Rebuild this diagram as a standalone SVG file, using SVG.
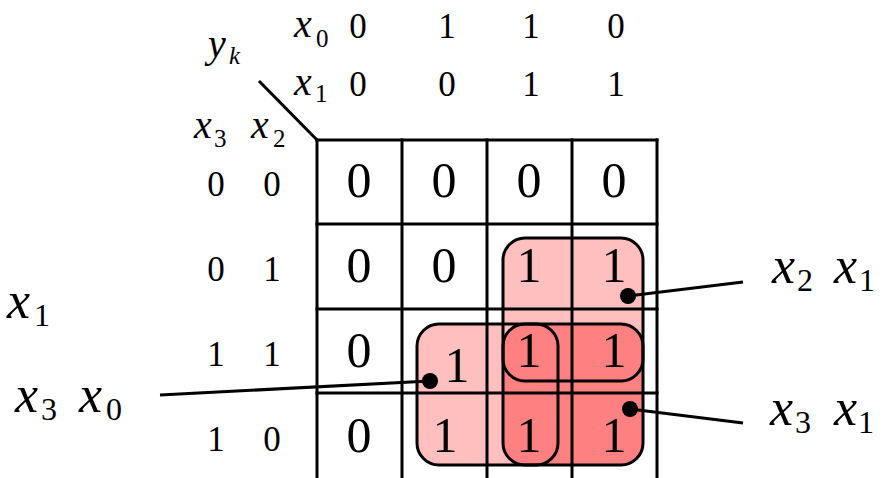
<svg xmlns="http://www.w3.org/2000/svg" width="883" height="478" viewBox="0 0 883 478">
  <style>
    .bg { fill: #ffffff; }
    .grid { stroke: #000; stroke-width: 3; fill: none; stroke-linecap: square; }
    .light { fill: #ffbfbf; }
    .dark { fill: #ff8080; }
    .edge { fill: none; stroke: #000; stroke-width: 3; }
    .num { fill: #000; }
    .cell { font-size: 50px; text-anchor: middle; }
    .head { font-size: 35px; text-anchor: middle; }
    .var { font-style: italic; fill: #000; }
    .sub { font-style: normal; fill: #000; }
    .wire { stroke: #000; stroke-width: 3; fill: none; }
  </style>

  <rect class="bg" x="0" y="0" width="883" height="478"/>

  <!-- group fills (drawn under the grid) -->
  <g id="fills">
    <rect class="light" x="503" y="238" width="140" height="143" rx="22"/>
    <rect class="light" x="417" y="324" width="141" height="141" rx="22"/>
    <rect class="dark" x="503" y="324" width="140" height="141" rx="22"/>
  </g>

  <!-- Karnaugh grid -->
  <g id="grid" class="grid">
    <line x1="260" y1="82" x2="317" y2="140"/>
    <line x1="317" y1="140" x2="657" y2="140"/>
    <line x1="317" y1="224" x2="657" y2="224"/>
    <line x1="317" y1="309" x2="657" y2="309"/>
    <line x1="317" y1="393" x2="657" y2="393"/>
    <line x1="317" y1="140" x2="317" y2="480"/>
    <line x1="402" y1="140" x2="402" y2="480"/>
    <line x1="487" y1="140" x2="487" y2="480"/>
    <line x1="572" y1="140" x2="572" y2="480"/>
    <line x1="657" y1="140" x2="657" y2="480"/>
  </g>

  <!-- group outlines -->
  <g id="group-x2x1">
    <rect class="edge" x="503" y="238" width="140" height="143" rx="22"/>
  </g>
  <g id="group-x3x0">
    <rect class="edge" x="417" y="324" width="141" height="141" rx="22"/>
  </g>
  <g id="group-x3x1">
    <rect class="edge" x="503" y="324" width="140" height="141" rx="22"/>
  </g>

  <g font-family="'Liberation Serif', 'DejaVu Serif', serif">
    <!-- axis headings -->
    <g id="axis-labels">
      <text><tspan class="var" x="294" y="37" font-size="40">x</tspan><tspan class="sub" x="316" y="47" font-size="25">0</tspan></text>
      <text><tspan class="var" x="294" y="95" font-size="40">x</tspan><tspan class="sub" x="315" y="102" font-size="25">1</tspan></text>
      <text><tspan class="var" x="208" y="57" font-size="40">y</tspan><tspan class="var" x="229" y="64" font-size="25">k</tspan></text>
      <text><tspan class="var" x="194" y="138" font-size="40">x</tspan><tspan class="sub" x="214" y="147" font-size="25">3</tspan><tspan class="var" x="251" y="138" font-size="40">x</tspan><tspan class="sub" x="273" y="147" font-size="25">2</tspan></text>
    </g>

    <g id="col-heads" class="num head">
      <text x="358" y="38">0</text>
      <text x="447" y="38">1</text>
      <text x="531" y="38">1</text>
      <text x="616" y="38">0</text>
      <text x="358" y="96">0</text>
      <text x="447" y="96">0</text>
      <text x="531" y="96">1</text>
      <text x="616" y="96">1</text>
    </g>

    <g id="row-heads" class="num head">
      <text x="216" y="196">0</text><text x="272" y="196">0</text>
      <text x="216" y="281">0</text><text x="272" y="281">1</text>
      <text x="216" y="366">1</text><text x="272" y="366">1</text>
      <text x="216" y="451">1</text><text x="272" y="451">0</text>
    </g>

    <!-- cell values -->
    <g id="cells" class="num cell">
      <text x="359" y="197">0</text>
      <text x="444" y="197">0</text>
      <text x="529" y="197">0</text>
      <text x="614" y="197">0</text>
      <text x="359" y="282">0</text>
      <text x="444" y="282">0</text>
      <text x="529" y="282">1</text>
      <text x="614" y="282">1</text>
      <text x="359" y="367">0</text>
      <text x="457" y="382">1</text>
      <text x="529" y="367">1</text>
      <text x="614" y="367">1</text>
      <text x="359" y="452">0</text>
      <text x="445" y="452">1</text>
      <text x="529" y="452">1</text>
      <text x="614" y="452">1</text>
    </g>

    <!-- term labels -->
    <g id="label-x1">
      <text><tspan class="var" x="7" y="318" font-size="52">x</tspan><tspan class="sub" x="34" y="326" font-size="32">1</tspan></text>
    </g>
    <g id="label-x3x0">
      <text><tspan class="var" x="15" y="412" font-size="52">x</tspan><tspan class="sub" x="41" y="420" font-size="32">3</tspan><tspan class="var" x="79" y="412" font-size="52">x</tspan><tspan class="sub" x="106" y="420" font-size="32">0</tspan></text>
    </g>
    <g id="label-x2x1">
      <text><tspan class="var" x="772" y="283" font-size="52">x</tspan><tspan class="sub" x="797" y="291" font-size="32">2</tspan><tspan class="var" x="834" y="283" font-size="52">x</tspan><tspan class="sub" x="859" y="291" font-size="32">1</tspan></text>
    </g>
    <g id="label-x3x1">
      <text><tspan class="var" x="770" y="425" font-size="52">x</tspan><tspan class="sub" x="795" y="433" font-size="32">3</tspan><tspan class="var" x="834" y="425" font-size="52">x</tspan><tspan class="sub" x="858" y="433" font-size="32">1</tspan></text>
    </g>
  </g>

  <!-- leader lines to the term labels -->
  <g id="connectors">
    <line class="wire" x1="628" y1="296" x2="743" y2="282"/>
    <circle cx="628" cy="296" r="8"/>
    <line class="wire" x1="630" y1="409" x2="743" y2="423"/>
    <circle cx="630" cy="409" r="8"/>
    <line class="wire" x1="430" y1="381" x2="160" y2="395"/>
    <circle cx="430" cy="381" r="8"/>
  </g>
</svg>
